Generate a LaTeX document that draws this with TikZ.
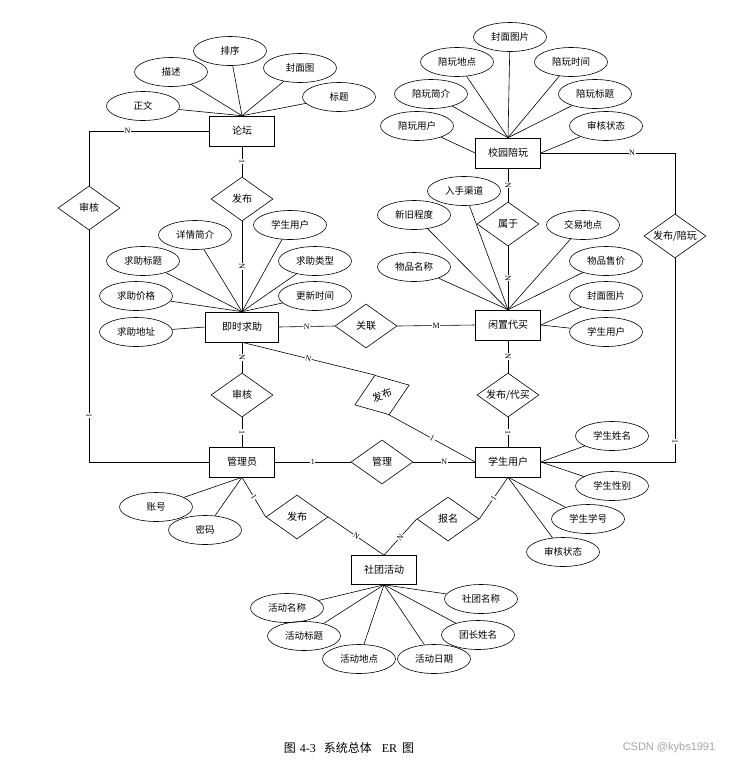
\documentclass[tikz,border=0pt]{standalone}
\usepackage{fontspec}
\newfontfamily\cjk{Noto Sans CJK SC}
\newfontfamily\lat{Liberation Serif}
\newfontfamily\wmk{Liberation Sans}
\usetikzlibrary{shapes.geometric}

\begin{document}
\begin{tikzpicture}[x=1pt,y=-1pt,line width=0.6pt,
    ent/.style={rectangle,draw,minimum width=65pt,minimum height=30pt,
                font=\cjk\fontsize{10}{12}\selectfont},
    attr/.style={ellipse,draw,minimum width=73pt,minimum height=29pt,
                 inner sep=0pt,font=\cjk\fontsize{9.5}{11}\selectfont},
    rel/.style={diamond,draw,aspect=1.5,minimum width=62pt,minimum height=44pt,
                inner sep=0pt,font=\cjk\fontsize{10}{12}\selectfont},
    card/.style={sloped,fill=white,inner sep=0.6pt,font=\lat\fontsize{8}{8}\selectfont}]

  \useasboundingbox (0,0) rectangle (735,761);

  % entities
  \node[ent]                    (lt)  at (242,131) {论坛};
  \node[ent]                    (xy)  at (508,153) {校园陪玩};
  \node[ent,minimum width=73pt] (qz)  at (242,327) {即时求助};
  \node[ent]                    (xz)  at (508,325) {闲置代买};
  \node[ent]                    (gly) at (242,462) {管理员};
  \node[ent]                    (xs)  at (508,462) {学生用户};
  \node[ent,minimum height=29pt] (st) at (384,570) {社团活动};

  % relations
  \node[rel]           (fb1) at (242,199) {发布};
  \node[rel]           (sh1) at (89,208)  {审核};
  \node[rel]           (gl)  at (366,326) {关联};
  \node[rel]           (sy)  at (508,224) {属于};
  \node[rel]           (fp)  at (675,236) {发布/陪玩};
  \node[rel]           (sh2) at (242,395) {审核};
  \node[rel,rotate=20,minimum width=58pt,minimum height=42pt] (fb2) at (382,395) {发布};
  \node[rel]           (gm)  at (382,462) {管理};
  \node[rel]           (fd)  at (508,395) {发布/代买};
  \node[rel]           (fb3) at (297,517) {发布};
  \node[rel]           (bm)  at (448,519) {报名};

  % attributes
  \node[attr] (zw)  at (143,106) {正文};
  \node[attr] (ms)  at (171,72)  {描述};
  \node[attr] (px)  at (230,51)  {排序};
  \node[attr] (fmt) at (300,68)  {封面图};
  \node[attr] (bt)  at (339,97)  {标题};

  \node[attr] (pfm) at (510,37)  {封面图片};
  \node[attr] (pdd) at (457,62)  {陪玩地点};
  \node[attr] (psj) at (571,62)  {陪玩时间};
  \node[attr] (pjj) at (431,94)  {陪玩简介};
  \node[attr] (pbt) at (595,94)  {陪玩标题};
  \node[attr] (pyh) at (417,126) {陪玩用户};
  \node[attr] (pzt) at (606,126) {审核状态};

  \node[attr] (qjj) at (195,235) {详情简介};
  \node[attr] (qyh) at (290,225) {学生用户};
  \node[attr] (qbt) at (143,261) {求助标题};
  \node[attr] (qlx) at (315,261) {求助类型};
  \node[attr] (qjg) at (136,296) {求助价格};
  \node[attr] (qsj) at (315,296) {更新时间};
  \node[attr] (qdz) at (136,332) {求助地址};

  \node[attr] (xqd) at (464,191) {入手渠道};
  \node[attr] (xxj) at (414,215) {新旧程度};
  \node[attr] (xdd) at (583,225) {交易地点};
  \node[attr] (xmc) at (414,267) {物品名称};
  \node[attr] (xsj) at (606,261) {物品售价};
  \node[attr] (xfm) at (606,296) {封面图片};
  \node[attr] (xyh) at (606,332) {学生用户};

  \node[attr] (sxm) at (612,436) {学生姓名};
  \node[attr] (sxb) at (612,486) {学生性别};
  \node[attr] (sxh) at (588,519) {学生学号};
  \node[attr] (szt) at (563,552) {审核状态};

  \node[attr] (zh)  at (156,507) {账号};
  \node[attr] (mm)  at (205,530) {密码};

  \node[attr] (amc) at (287,608) {活动名称};
  \node[attr] (abt) at (304,636) {活动标题};
  \node[attr] (add) at (359,659) {活动地点};
  \node[attr] (arq) at (434,659) {活动日期};
  \node[attr] (atz) at (478,635) {团长姓名};
  \node[attr] (ast) at (481,599) {社团名称};

  % attribute lines
  \path (zw) edge (lt.north) (ms) edge (lt.north) (px) edge (lt.north)
        (fmt) edge (lt.north) (bt) edge (lt.north);
  \path (pfm) edge (xy.north) (pdd) edge (xy.north) (psj) edge (xy.north)
        (pjj) edge (xy.north) (pbt) edge (xy.north)
        (pyh) edge (xy.west) (pzt) edge (xy.east);
  \path (qjj) edge (qz.north) (qyh) edge (qz.north) (qbt) edge (qz.north)
        (qlx) edge (qz.north) (qjg) edge (qz.north) (qsj) edge (qz.north)
        (qdz) edge (qz.west);
  \path (xqd) edge (xz.north) (xxj) edge (xz.north) (xdd) edge (xz.north)
        (xmc) edge (xz.north) (xsj) edge (xz.north)
        (xfm) edge (xz.east) (xyh) edge (xz.east);
  \path (sxm) edge (xs.east) (sxb) edge (xs.east)
        (sxh) edge (xs.south) (szt) edge (xs.south);
  \path (zh) edge (gly.south) (mm) edge (gly.south);
  \path (amc) edge (st.south) (abt) edge (st.south) (add) edge (st.south)
        (arq) edge (st.south) (atz) edge (st.south) (ast) edge (st.south);

  % relation lines
  \draw (lt.west) -| node[card,pos=0.34] {N} (sh1.north);
  \draw (sh1.south) |- node[card,pos=0.4] {1} (gly.west);
  \draw (xy.east) -| node[card,pos=0.34] {N} (fp.north);
  \draw (fp.south) |- node[card,pos=0.45] {1} (xs.east);

  \path (lt.south)  edge node[card] {1} (fb1.north)
        (fb1.south) edge node[card] {N} (qz.north)
        (qz.east)   edge node[card] {N} (gl.west)
        (gl.east)   edge node[card] {M} (xz.west)
        (xy.south)  edge node[card] {N} (sy.north)
        (sy.south)  edge node[card] {N} (xz.north)
        (xz.south)  edge node[card] {N} (fd.north)
        (fd.south)  edge node[card] {1} (xs.north)
        (qz.south)  edge node[card] {N} (sh2.north)
        (sh2.south) edge node[card] {1} (gly.north)
        (qz.south)  edge node[card] {N} (fb2.north)
        (fb2.south) edge node[card] {1} (xs.west)
        (gly.east)  edge node[card] {1} (gm.west)
        (gm.east)   edge node[card] {N} (xs.west)
        (gly.south) edge node[card] {1} (fb3.west)
        (fb3.east)  edge node[card] {N} (st.north)
        (xs.south)  edge node[card] {1} (bm.east)
        (bm.west)   edge node[card] {N} (st.north);

  % caption
  \node[font=\cjk\fontsize{12}{14}\selectfont] (cap) at (349,748)
       {图\hspace{4pt}{\lat 4-3}\hspace{8pt}系统总体\hspace{10pt}{\lat ER}\hspace{5pt}图};
  \node[font=\wmk\fontsize{11}{13}\selectfont,text=black!35] (wm) at (669,748)
       {CSDN @kybs1991};
\end{tikzpicture}
\end{document}
